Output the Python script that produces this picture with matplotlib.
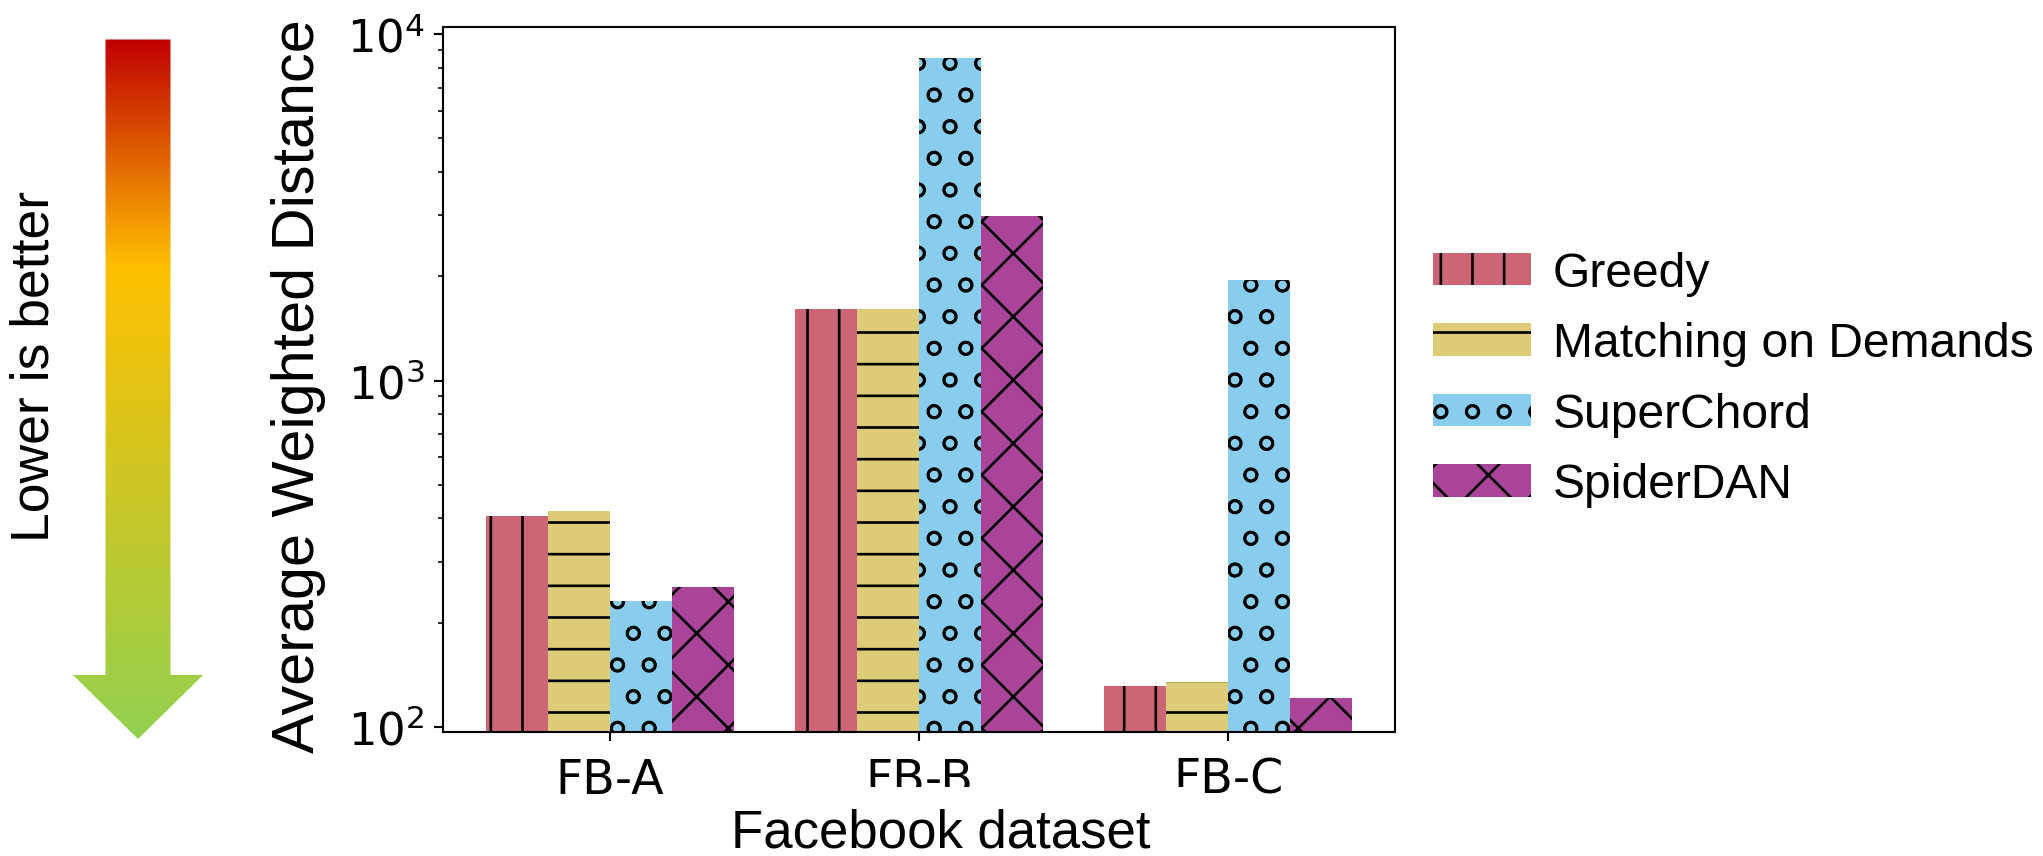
import numpy as np
import matplotlib
matplotlib.use("Agg")
import matplotlib.pyplot as plt
from matplotlib.colors import LinearSegmentedColormap
from matplotlib.patches import Polygon, Rectangle

# data (log scale)
datasets = ['FB-A', 'FB-B', 'FB-C']
methods = ['Greedy', 'Matching on Demands', 'SuperChord', 'SpiderDAN']
greedy = [407, 1607, 131]
matching = [421, 1607, 135]
superchord = [231, 8550, 1946]
spiderdan = [254, 2986, 121]

colors = ['#CC6677', '#DDCC77', '#88CCEE', '#AA4499']
hatches = ['|', '-', 'o', 'x']

W, H = 2043, 857
DPI = 190
sans = 'Liberation Sans'


def fx(x):
    return x / W


def fy(y):
    return 1 - y / H


fig = plt.figure(figsize=(W / DPI, H / DPI), dpi=DPI)

# gradient arrow on the left
arr = fig.add_axes([0, 0, 1, 1], zorder=-1)
arr.axis('off')
cmap = LinearSegmentedColormap.from_list('lower', [(0, '#C00000'), (0.326, '#FFC000'), (1, '#92D050')])
grad = np.linspace(0, 1, 256).reshape(-1, 1)
im = arr.imshow(grad, cmap=cmap, extent=(73, 203, 740, 40), aspect='auto')
shape = Polygon([(105.5, 40.5), (170.5, 40.5), (170.5, 676), (203, 676), (138, 740), (73, 676), (105.5, 676)],
                closed=True, facecolor='none', edgecolor='none')
arr.add_patch(shape)
im.set_clip_path(shape)
arr.set_xlim(0, W)
arr.set_ylim(H, 0)

ax = fig.add_axes([fx(443), fy(733), (1395 - 443) / W, (733 - 28) / H])
x = np.arange(len(datasets))
width = 0.2
series = [greedy, matching, superchord, spiderdan]
for i, vals in enumerate(series):
    ax.bar(x + (i - 1.5) * width, vals, width, color=colors[i], hatch=hatches[i], label=methods[i])

ax.set_yscale('log')
ax.set_ylim(96.7, 10480)
ax.set_xticks(x)
ax.set_xticklabels(datasets)
ax.tick_params(axis='y', which='major', labelsize=17)
ax.tick_params(axis='x', which='major', labelsize=18, pad=5.5)

ax.legend(loc='center left', bbox_to_anchor=(fx(1433), fy(380)), bbox_transform=fig.transFigure,
          frameon=False, prop={'family': sans, 'size': 18.2}, handlelength=2.05, handleheight=0.66,
          handletextpad=0.45, labelspacing=0.53, borderpad=0, borderaxespad=0)

# white box over the bottom of the tick labels, like the slide overlay
fig.add_artist(Rectangle((fx(700), 0), fx(1200) - fx(700), fy(788), transform=fig.transFigure,
                         facecolor='white', edgecolor='none', zorder=2))
fig.text(fx(941), fy(834), 'Facebook dataset', ha='center', va='center', family=sans, size=20, zorder=3)
fig.text(fx(299), fy(386), 'Average Weighted Distance', ha='center', va='center', rotation=90,
         family=sans, size=22.5)
fig.text(fx(35), fy(366), 'Lower is better', ha='center', va='center', rotation=90, family=sans, size=20.3)

fig.savefig('out.png', dpi=DPI)
